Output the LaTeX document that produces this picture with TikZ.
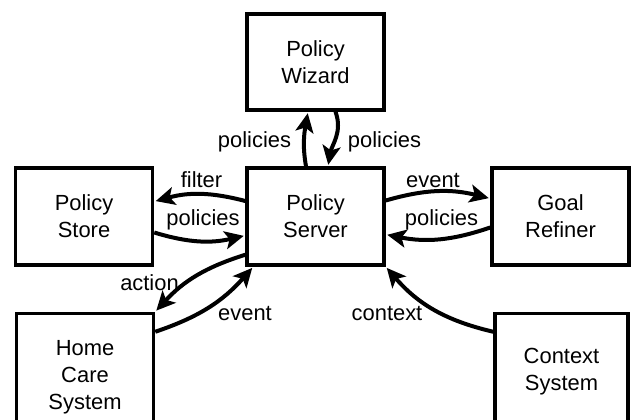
\documentclass[tikz,border=0pt]{standalone}
\usepackage{fontspec}
\setmainfont{Liberation Sans}
\usetikzlibrary{arrows.meta}
\tikzset{
	block/.style={draw, line width=3.5bp, minimum width=137bp, align=center, inner sep=0pt, font=\fontsize{22}{27}\selectfont},
	flow/.style={line width=4bp, shorten >=1.5bp, -{Stealth[length=19bp,width=18bp,inset=4.5bp]}},
	lbl/.style={anchor=base, inner sep=0pt, font=\fontsize{22}{27}\selectfont}
}
\begin{document}
\begin{tikzpicture}[x=1bp,y=-1bp]
	\useasboundingbox (0,0) rectangle (631,419);% Fix the page size
	
	\node[block, minimum height=96bp] (Wizard) at (315.5,62) {Policy\\Wizard};
	\node[block, minimum height=97bp] (Server) at (315.5,216.5) {Policy\\Server};
	\node[block, minimum height=97bp] (Store) at (84,216.5) {Policy\\Store};
	\node[block, minimum height=97bp] (Refiner) at (560.5,216.5) {Goal\\Refiner};
	\node[block, minimum height=127bp] (HomeCare) at (85,377) {Home\\Care\\System};% runs off the page
	\node[block, minimum height=116bp, minimum width=133bp] (Context) at (561.5,371.5) {Context\\System};
	
	% Wizard <-> Server
	\draw[flow] ([xshift=-9.5bp]Server.north) to[out=100,in=-100] ([xshift=-7.5bp]Wizard.south);
	\draw[flow] ([xshift=20bp]Wizard.south) to[out=-70,in=80] ([xshift=12.5bp]Server.north);
	\node[lbl] (LblWizardUp) at (254.5,147) {policies};
	\node[lbl] (LblWizardDown) at (384.5,147) {policies};
	
	% Store <-> Server
	\draw[flow] ([yshift=15.5bp]Server.west) to[bend right=15] ([yshift=15bp]Store.east);
	\draw[flow] ([yshift=-16bp]Store.east) to[bend right=15] ([yshift=-19bp]Server.west);
	\node[lbl] (LblFilter) at (201.5,187) {filter};
	\node[lbl] (LblStorePolicies) at (203,225) {policies};
	
	% Refiner <-> Server
	\draw[flow] ([yshift=16bp]Server.east) to[bend left=15] ([yshift=18bp]Refiner.west);
	\draw[flow] ([yshift=-11bp]Refiner.west) to[bend left=15] ([yshift=-18bp]Server.east);
	\node[lbl] (LblEventTop) at (433,187) {event};
	\node[lbl] (LblRefinerPolicies) at (441.5,225) {policies};
	
	% Home Care and Context
	\draw[flow] ([yshift=12bp]Server.south west) to[bend right=15] (HomeCare.north east);
	\draw[flow] ([yshift=-20bp]HomeCare.north east) to[bend right=15] ([xshift=8bp]Server.south west);
	\draw[flow] ([yshift=-20bp]Context.north west) to[bend left=18] (Server.south east);
	\node[lbl] (LblAction) at (149.5,290) {action};
	\node[lbl] (LblEventBottom) at (245,320) {event};
	\node[lbl] (LblContext) at (387,320) {context};
	
\end{tikzpicture}
\end{document}
